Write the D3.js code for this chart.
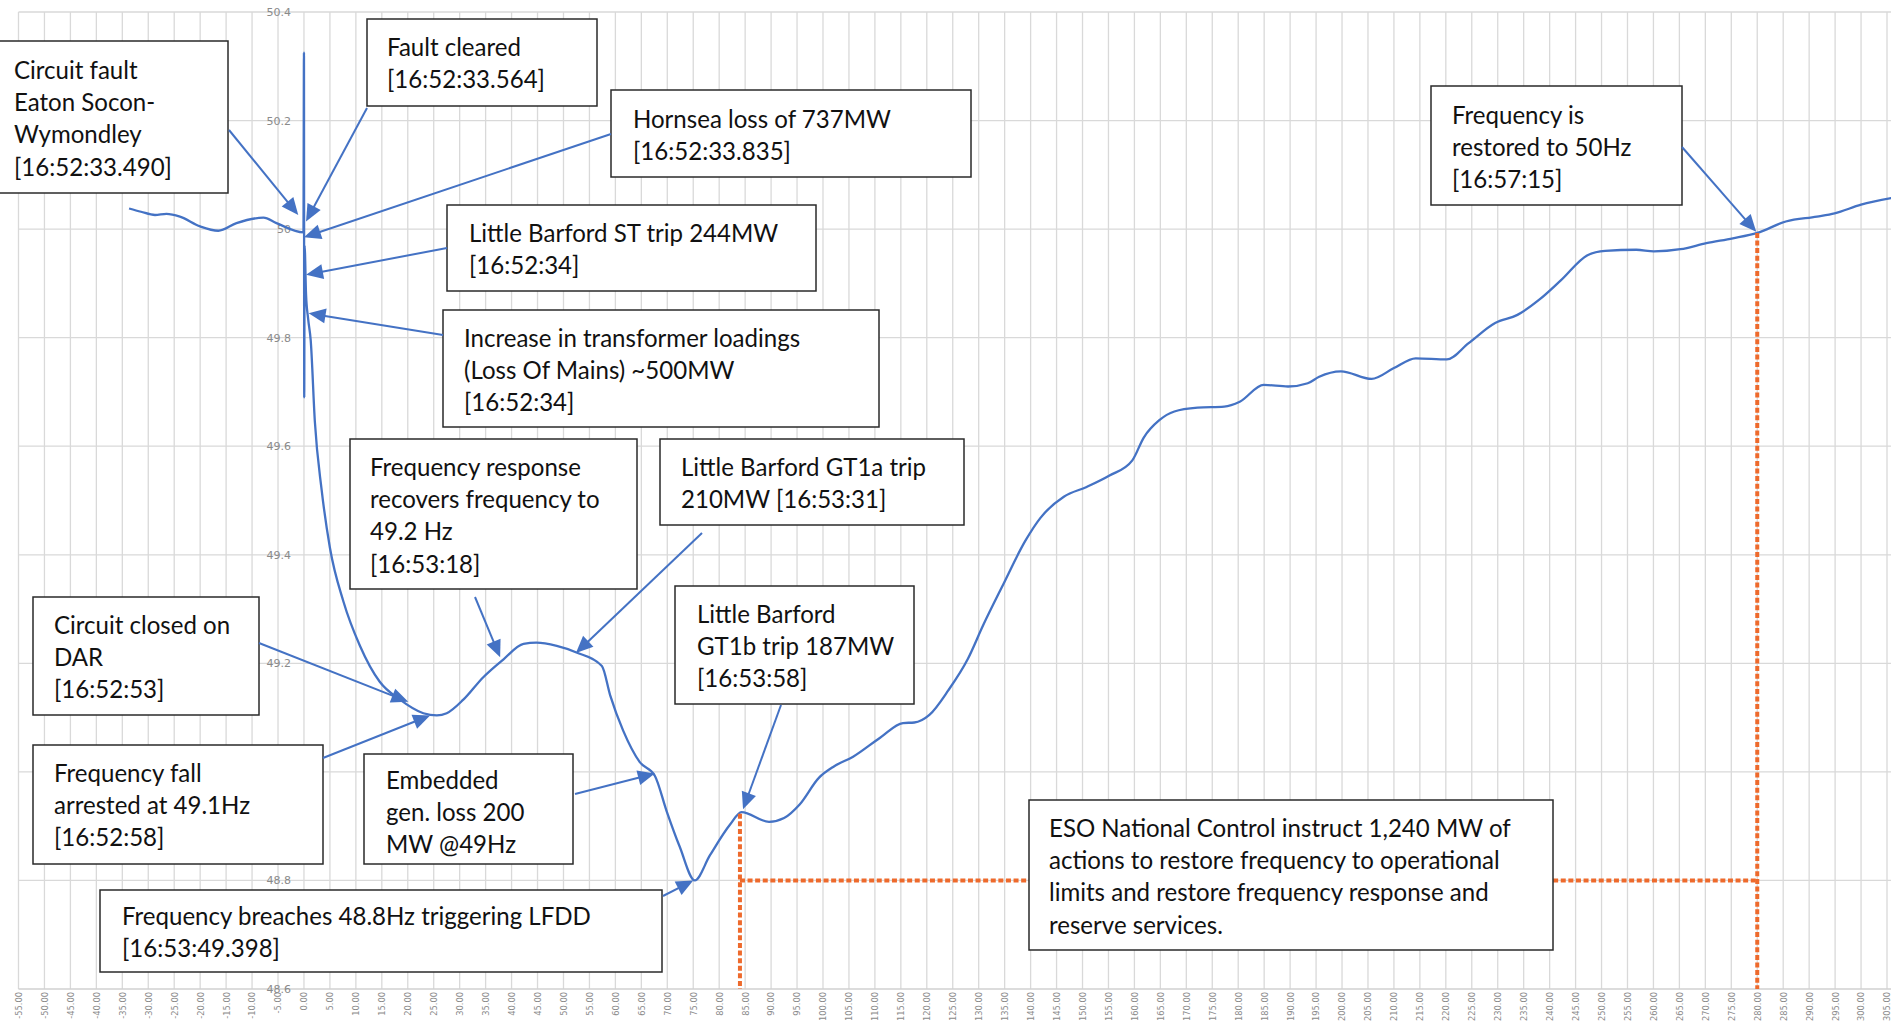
<!DOCTYPE html>
<html><head><meta charset="utf-8">
<script src="https://cdn.jsdelivr.net/npm/d3@7"></script>
<style>body{margin:0;background:#fff;overflow:hidden}svg{display:block}</style>
</head><body><svg id="c" width="1891" height="1022"></svg>
<script>
// ---- data (seconds after fault 16:52:33.490, frequency Hz) ----
const timeS = [-33.7,-31.4,-28.7,-26.5,-23.9,-20.0,-16.5,-13.0,-7.8,-5.3,-0.1,0,0.05,0.12,0.4,0.8,1.3,2.1,3.4,5.0,7.6,10.8,14.6,18.5,23.0,25.6,27.5,30.7,34.5,38.4,42.3,44.8,48.7,52.5,57.4,59.0,61.5,64.7,67.6,69.9,72.4,75.3,78.2,82.1,84.3,89.6,92.5,95.5,99.2,102.1,105.8,111.0,115.4,117.6,120.5,124.2,127.9,130.9,134.5,139.0,141.9,146.4,150.8,155.2,159.6,161.8,164.8,167.7,172.2,177.3,180.3,184.9,189.6,193.4,195.6,199.8,205.7,210.0,214.2,220.2,224.4,229.5,233.8,238.0,242.2,247.3,250.7,256.7,260.1,265.2,270.2,275.3,280.0,285.5,291.5,294.9,300.0,305.8];
const freqHz = [50.038,50.032,50.026,50.028,50.023,50.005,49.997,50.011,50.021,50.011,49.994,50.325,49.69,49.97,49.88,49.835,49.795,49.645,49.52,49.413,49.314,49.232,49.166,49.133,49.108,49.104,49.108,49.133,49.174,49.207,49.236,49.238,49.232,49.22,49.195,49.141,49.076,49.018,48.993,48.927,48.862,48.80,48.846,48.903,48.926,48.908,48.915,48.940,48.989,49.01,49.028,49.063,49.09,49.091,49.105,49.151,49.208,49.271,49.341,49.426,49.468,49.507,49.525,49.546,49.574,49.616,49.648,49.664,49.671,49.673,49.682,49.713,49.71,49.716,49.728,49.738,49.724,49.744,49.762,49.760,49.79,49.827,49.842,49.870,49.906,49.952,49.960,49.962,49.959,49.963,49.974,49.983,49.993,50.014,50.023,50.029,50.045,50.057];
const xTickValues = d3.range(-55, 306, 5);
const yTickValues = [48.6,48.8,49.0,49.2,49.4,49.6,49.8,50.0,50.2,50.4];
const yTickLabels = ["48.6","48.8","49","49.2","49.4","49.6","49.8","50","50.2","50.4"];
const markerTimes = [84, 280];      // GT1b trip / frequency restored
const markerLevel = 48.8;           // LFDD level

// annotation texts and the data point (t, Hz) each arrow points to
const noteTexts = [
  ["Circuit fault","Eaton Socon-","Wymondley","[16:52:33.490]"],
  ["Fault cleared","[16:52:33.564]"],
  ["Hornsea loss of 737MW","[16:52:33.835]"],
  ["Little Barford ST trip 244MW","[16:52:34]"],
  ["Increase in transformer loadings","(Loss Of Mains) ~500MW","[16:52:34]"],
  ["Frequency response","recovers frequency to","49.2 Hz","[16:53:18]"],
  ["Little Barford GT1a trip","210MW [16:53:31]"],
  ["Circuit closed on","DAR","[16:52:53]"],
  ["Frequency fall","arrested at 49.1Hz","[16:52:58]"],
  ["Embedded","gen. loss 200","MW @49Hz"],
  ["Frequency breaches 48.8Hz triggering LFDD","[16:53:49.398]"],
  ["Little Barford","GT1b trip 187MW","[16:53:58]"],
  ["ESO National Control instruct 1,240 MW of","actions to restore frequency to operational","limits and restore frequency response and","reserve services."],
  ["Frequency is","restored to 50Hz","[16:57:15]"]
];
const noteTips = [[-1.1,50.026],[0.4,50.014],[0.0,49.985],[0.4,49.916],[0.9,49.845],[37.8,49.211],[52.4,49.219],[20.1,49.129],[24.3,49.104],[67.6,48.997],[75.0,48.80],[84.6,48.931],null,[279.8,49.995]];

// layout of boxes (pixels): x, y, w, h, text pad, first line offset, arrow tail
const layout = [
  {b:[-1,41,229,152],p:15,o:29,tail:[229,130]},
  {b:[367,19,230,87],p:20,o:28,tail:[367,108]},
  {b:[611,90,360,87],p:22,o:29,tail:[611,134]},
  {b:[447,205,369,86],p:22,o:28,tail:[447,248]},
  {b:[443,310,436,117],p:21,o:28,tail:[443,335]},
  {b:[350,439,287,150],p:20,o:28,tail:[475,597]},
  {b:[660,439,304,86],p:21,o:28,tail:[702,533]},
  {b:[33,597,226,118],p:21,o:28,tail:[259,643]},
  {b:[33,745,290,119],p:21,o:28,tail:[323,758]},
  {b:[364,754,209,110],p:22,o:26,tail:[575,794]},
  {b:[100,890,562,82],p:22,o:26,tail:[663,896]},
  {b:[675,586,239,118],p:22,o:28,tail:[781,705]},
  {b:[1029,800,524,150],p:20,o:28,tail:null},
  {b:[1431,86,251,119],p:21,o:29,tail:[1682,147]}
];

const svg = d3.select("#c");
const W = 1891, H = 1022;
const x = d3.scaleLinear().domain([-55, 305]).range([18.5, 1887]);
const y = d3.scaleLinear().domain([48.6, 50.4]).range([989, 12]);
const BLUE = "#4472C4", ORANGE = "#EE6A2C", GRID = "#d9d9d9";

svg.append("rect").attr("width", W).attr("height", H).attr("fill", "#fff");

// gridlines
const grid = svg.append("g");
grid.selectAll("line.v").data(xTickValues).join("line")
  .attr("x1", d => x(d)).attr("x2", d => x(d))
  .attr("y1", y(50.4)).attr("y2", y(48.6))
  .attr("stroke", GRID).attr("stroke-width", 1.3);
grid.selectAll("line.h").data(yTickValues).join("line")
  .attr("x1", x(-55)).attr("x2", W)
  .attr("y1", d => y(d)).attr("y2", d => y(d))
  .attr("stroke", d => d === 48.6 ? "#d0d0d0" : GRID).attr("stroke-width", d => d === 48.6 ? 1.6 : 1.3);

// y labels (axis crosses at t = 0)
const yAxis = d3.axisLeft(y).tickValues(yTickValues).tickSize(0).tickPadding(13)
  .tickFormat((d, i) => yTickLabels[i]);
const gy = svg.append("g").attr("transform", `translate(${x(0)},0)`).call(yAxis);
gy.select(".domain").remove();
gy.selectAll("text").attr("font-family", "DejaVu Sans").attr("font-size", 11).attr("fill", "#8a8a8a");

// x labels rotated
const xAxis = d3.axisBottom(x).tickValues(xTickValues).tickSize(0).tickFormat(d => d.toFixed(2));
const gx = svg.append("g").attr("transform", `translate(0,${y(48.6)})`).call(xAxis);
gx.select(".domain").remove();
gx.selectAll("text")
  .attr("font-family", "DejaVu Sans").attr("font-size", 8.3).attr("fill", "#8a8a8a")
  .attr("transform", "rotate(-90)").attr("text-anchor", "end")
  .attr("x", -3).attr("y", 0).attr("dy", "0.35em");

// data line
const pts = timeS.map((t, i) => [t, freqHz[i]]);
svg.append("path").datum(pts)
  .attr("d", d3.line().x(d => x(d[0])).y(d => y(d[1])).curve(d3.curveMonotoneX))
  .attr("fill", "none").attr("stroke", BLUE).attr("stroke-width", 2.3).attr("stroke-linejoin", "round");

// orange dotted markers
const interp = t => { const i = d3.bisector(d => d).left(timeS, t); const t0 = timeS[i-1], t1 = timeS[i]; return freqHz[i-1] + (freqHz[i]-freqHz[i-1])*(t-t0)/(t1-t0); };
const og = svg.append("g").attr("stroke", ORANGE).attr("stroke-width", 4).attr("stroke-dasharray", "5,2.6").attr("fill", "none");
markerTimes.forEach(t => og.append("line").attr("x1", x(t)).attr("x2", x(t)).attr("y1", y(interp(t))).attr("y2", y(48.6)));
og.append("line").attr("x1", x(markerTimes[0])).attr("x2", x(markerTimes[1])).attr("y1", y(markerLevel)).attr("y2", y(markerLevel));

// arrows
function arrow(g, x1, y1, x2, y2) {
  const dx = x2 - x1, dy = y2 - y1, L = Math.hypot(dx, dy), ux = dx / L, uy = dy / L;
  const hl = 17, hw = 7.5, bx = x2 - ux * hl, by = y2 - uy * hl;
  g.append("line").attr("x1", x1).attr("y1", y1).attr("x2", bx + ux * 2).attr("y2", by + uy * 2)
    .attr("stroke", BLUE).attr("stroke-width", 2);
  g.append("path").attr("d", `M${x2},${y2}L${bx - uy * hw},${by + ux * hw}L${bx + uy * hw},${by - ux * hw}Z`).attr("fill", BLUE);
}

// boxes
const ng = svg.append("g");
// calibrate font size to reference width of a known line
const probe = ng.append("text").attr("font-family", "Lato").attr("font-size", 20).text("Frequency breaches 48.8Hz triggering LFDD");
const fs = 20 * 469 / probe.node().getComputedTextLength();
probe.remove();

layout.forEach((L, i) => {
  const [bx, by, bw, bh] = L.b;
  ng.append("rect").attr("x", bx).attr("y", by).attr("width", bw).attr("height", bh)
    .attr("fill", "#fff").attr("stroke", "#2a2a2a").attr("stroke-width", 1.5);
  const tx = ng.append("text").attr("font-family", "Lato").attr("font-size", fs).attr("fill", "#111");
  noteTexts[i].forEach((s, j) => tx.append("tspan").attr("x", bx + L.p).attr("y", by + L.o + j * 32.4 + fs * 0.36).text(s));
});
const ag = svg.append("g");
layout.forEach((L, i) => {
  if (!L.tail) return;
  const tip = noteTips[i];
  arrow(ag, L.tail[0], L.tail[1], x(tip[0]), y(tip[1]));
});
</script></body></html>
